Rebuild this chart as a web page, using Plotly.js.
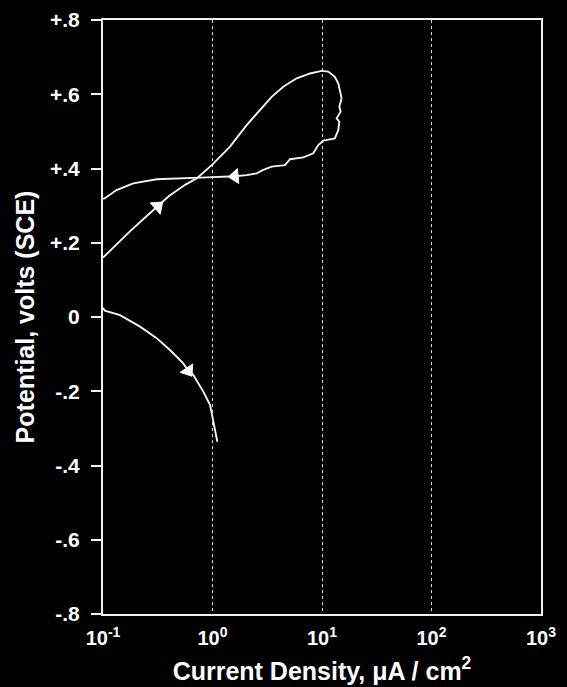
<!DOCTYPE html>
<html>
<head>
<meta charset="utf-8">
<script src="https://cdn.plot.ly/plotly-3.0.1.min.js"></script>
<style>
  html, body { margin: 0; padding: 0; background: #000; }
  #chart { width: 567px; height: 687px; }
</style>
</head>
<body>
<div id="chart"></div>
<script>
// Cathodic branch (current density in uA/cm2, potential in V SCE)
const cathodicI = [0.100, 0.104, 0.143, 0.218, 0.309, 0.409, 0.541, 0.601, 0.668, 0.824, 0.951, 1.016, 1.107];
const cathodicE = [0.025, 0.017, 0.005, -0.026, -0.057, -0.089, -0.125, -0.145, -0.156, -0.201, -0.237, -0.277, -0.336];

// Anodic forward scan
const forwardI = [0.100, 0.126, 0.178, 0.251, 0.316, 0.398, 0.562, 0.721, 0.984, 1.445, 2.05, 2.91, 3.47, 4.43, 5.87, 7.77, 9.94, 11.4, 13.1, 14.1, 14.6, 15.1];
const forwardE = [0.160, 0.190, 0.232, 0.272, 0.298, 0.325, 0.356, 0.374, 0.409, 0.459, 0.517, 0.566, 0.593, 0.620, 0.643, 0.656, 0.663, 0.661, 0.647, 0.629, 0.611, 0.589];

// Anodic reverse scan
const reverseI = [15.1, 14.4, 14.8, 13.6, 14.4, 14.1, 13.1, 10.3, 9.25, 8.33, 6.75, 5.10, 4.59, 3.47, 2.91, 2.53, 2.05, 1.60, 0.885, 0.309, 0.189, 0.133, 0.104, 0.100];
const reverseE = [0.589, 0.566, 0.553, 0.535, 0.526, 0.504, 0.481, 0.475, 0.463, 0.441, 0.430, 0.425, 0.409, 0.405, 0.396, 0.387, 0.382, 0.379, 0.376, 0.371, 0.360, 0.342, 0.320, 0.318];

// Axis ticks
const xTickVals = [0.1, 1, 10, 100, 1000];
const xTickText = ['10<sup>-1</sup>', '10<sup>0</sup>', '10<sup>1</sup>', '10<sup>2</sup>', '10<sup>3</sup>'];
const yTickVals = [-0.8, -0.6, -0.4, -0.2, 0, 0.2, 0.4, 0.6, 0.8];
const yTickText = ['-.8', '-.6', '-.4', '-.2', '0', '+.2', '+.4', '+.6', '+.8'];

const ink = '#f2f2f2';
const lineStyle = { color: ink, width: 1.9 };

// arrowhead: a two-point marker trace, the head oriented from the previous point
function arrowTrace(xs, ys, tail, head) {
  return {
    x: [xs[tail], xs[head]], y: [ys[tail], ys[head]],
    mode: 'markers', hoverinfo: 'skip',
    marker: { symbol: 'triangle-up', size: [0, 13], color: '#ffffff', opacity: 1,
              angleref: 'previous', line: { width: 1, color: '#ffffff' } }
  };
}

const traces = [
  { x: cathodicI, y: cathodicE, mode: 'lines', line: lineStyle, hoverinfo: 'skip' },
  { x: forwardI, y: forwardE, mode: 'lines', line: lineStyle, hoverinfo: 'skip' },
  { x: reverseI, y: reverseE, mode: 'lines', line: lineStyle, hoverinfo: 'skip' },
  arrowTrace(forwardI, forwardE, 3, 4),
  arrowTrace(reverseI, reverseE, 16, 17),
  arrowTrace(cathodicI, cathodicE, 6, 7)
];

const font = 'Liberation Sans, Arial, Helvetica, sans-serif';

const layout = {
  width: 567, height: 687,
  paper_bgcolor: '#000', plot_bgcolor: '#000',
  margin: { l: 103, r: 26, t: 20, b: 73 },
  showlegend: false,
  xaxis: {
    type: 'log', range: [-1, 3],
    tickvals: xTickVals, ticktext: xTickText,
    ticks: '', ticklabelstandoff: 5,
    tickfont: { family: font, size: 20, color: '#fff', weight: 'bold' },
    showgrid: true, gridcolor: '#d8d8d8', griddash: 'dot', gridwidth: 1,
    showline: true, linecolor: ink, linewidth: 2, mirror: true,
    zeroline: false,
    title: { text: 'Current Density, μA / cm<sup>2</sup>', standoff: 14,
             font: { family: font, size: 25, color: '#fff', weight: 'bold' } }
  },
  yaxis: {
    range: [-0.8, 0.8],
    tickvals: yTickVals, ticktext: yTickText,
    ticks: 'outside', ticklen: 10, tickwidth: 2, tickcolor: ink,
    ticklabelstandoff: 7,
    tickfont: { family: font, size: 21, color: '#fff', weight: 'bold' },
    showgrid: false, zeroline: false,
    showline: true, linecolor: ink, linewidth: 2, mirror: true,
    title: { text: 'Potential, volts (SCE)', standoff: 8,
             font: { family: font, size: 25, color: '#fff', weight: 'bold' } }
  }
};

Plotly.newPlot('chart', traces, layout, { staticPlot: true, displayModeBar: false });
</script>
</body>
</html>
